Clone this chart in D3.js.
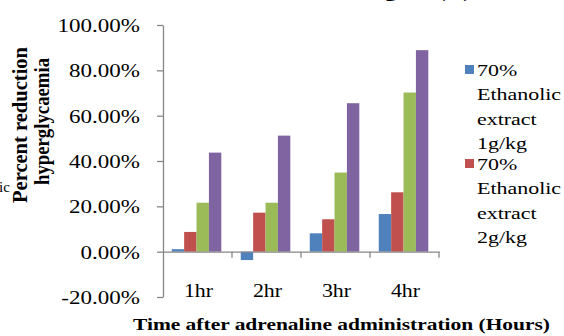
<!DOCTYPE html>
<html>
<head>
<meta charset="utf-8">
<script src="https://cdn.jsdelivr.net/npm/d3@7/dist/d3.min.js"></script>
<style>
  html, body { margin: 0; padding: 0; background: #fff; }
  svg { display: block; }
  text { font-family: "Liberation Serif", "Times New Roman", serif; fill: #000; }
</style>
</head>
<body>
<svg id="chart" width="564" height="336"></svg>
<script>
// ---- data ----
const categories = ["1hr", "2hr", "3hr", "4hr"];
const seriesNames = [
  "70% Ethanolic extract 1g/kg",
  "70% Ethanolic extract 2g/kg",
  "Series 3",
  "Series 4"
];
const series1 = [0.011, -0.037, 0.081, 0.166];
const series2 = [0.087, 0.172, 0.143, 0.262];
const series3 = [0.216, 0.216, 0.349, 0.702];
const series4 = [0.437, 0.512, 0.655, 0.889];
const yTicks = [-0.2, 0, 0.2, 0.4, 0.6, 0.8, 1.0];
const legendLines = [
  ["70%", "Ethanolic", "extract", "1g/kg"],
  ["70%", "Ethanolic", "extract", "2g/kg"]
];
const colors = ["#4F81BD", "#C0504D", "#9BBB59", "#8064A2"];

const allSeries = [series1, series2, series3, series4];

const svg = d3.select("#chart");
svg.append("rect").attr("width", 564).attr("height", 336).attr("fill", "#fff");

const SX = 1.28; // horizontal stretch of text in the reference

const y = d3.scaleLinear().domain([-0.2, 1.0]).range([297, 25]);
const x0 = d3.scaleBand().domain(categories).range([163, 439]).padding(0);
const bw = x0.bandwidth();
const x1 = d3.scaleBand().domain(d3.range(allSeries.length))
  .range([bw * 0.127, bw * 0.845]).padding(0);

const axisColor = "#868686";

// bars
const groups = svg.append("g").selectAll("g")
  .data(categories).join("g")
  .attr("transform", d => `translate(${x0(d)},0)`);
groups.selectAll("rect")
  .data((d, i) => allSeries.map((s, k) => ({ k, v: s[i] })))
  .join("rect")
  .attr("x", d => x1(d.k))
  .attr("width", x1.bandwidth())
  .attr("y", d => y(Math.max(0, d.v)))
  .attr("height", d => Math.abs(y(d.v) - y(0)))
  .attr("fill", d => colors[d.k]);

// y axis
const pct = d3.format(".2%");
const yAxis = d3.axisLeft(y).tickValues(yTicks).tickSize(6).tickSizeOuter(0)
  .tickFormat(d => pct(d).replace("\u2212", "-"));
const gy = svg.append("g").attr("transform", "translate(163,0)").call(yAxis);
gy.select(".domain").attr("stroke", axisColor).attr("stroke-width", 1.3);
gy.selectAll(".tick line").attr("stroke", axisColor).attr("stroke-width", 1.3);
gy.selectAll(".tick text")
  .attr("font-family", "Liberation Serif, serif")
  .attr("font-size", 18)
  .attr("fill", "#000")
  .attr("x", 0).attr("dy", 0)
  .attr("transform", `translate(-23,6.5) scale(${SX},1)`);

// x axis at zero line
const xAxis = d3.axisBottom(x0).tickSize(0).tickSizeOuter(0).tickFormat("");
const gx = svg.append("g").attr("transform", `translate(0,${y(0)})`).call(xAxis);
gx.select(".domain").attr("stroke", axisColor).attr("stroke-width", 1.3);
gx.selectAll(".tick").remove();
// category boundary tick marks
const bounds = categories.map(c => x0(c) + bw);
gx.selectAll("line.bt").data(bounds).join("line").attr("class", "bt")
  .attr("x1", d => d).attr("x2", d => d).attr("y1", 0).attr("y2", 6)
  .attr("stroke", axisColor).attr("stroke-width", 1.3);

// category labels
svg.append("g").selectAll("text").data(categories).join("text")
  .attr("text-anchor", "middle")
  .attr("font-size", 18)
  .attr("transform", d => `translate(${x0(d) + bw / 2 + 1},297) scale(${SX * 0.95},1)`)
  .text(d => d);

// x title
svg.append("text")
  .attr("x", 133).attr("y", 330)
  .attr("font-size", 17).attr("font-weight", "bold")
  .attr("textLength", 417).attr("lengthAdjust", "spacingAndGlyphs")
  .text("Time after adrenaline administration (Hours)");

// y title (two lines)
svg.append("text")
  .attr("transform", "translate(27,125) rotate(-90) scale(1,1.2)")
  .attr("text-anchor", "middle")
  .attr("font-size", 17).attr("font-weight", "bold")
  .attr("textLength", 156).attr("lengthAdjust", "spacingAndGlyphs")
  .text("Percent reduction");
svg.append("text")
  .attr("transform", "translate(49,121.5) rotate(-90) scale(1,1.2)")
  .attr("text-anchor", "middle")
  .attr("font-size", 17).attr("font-weight", "bold")
  .attr("textLength", 127).attr("lengthAdjust", "spacingAndGlyphs")
  .text("hyperglycaemia");

// clipped fragments at the edges (as in the reference)
svg.append("text").attr("x", -1).attr("y", 192).attr("font-size", 15).text("ic");
svg.append("text")
  .attr("transform", `translate(363,-3) scale(${SX},1)`)
  .attr("font-size", 19).attr("font-weight", "bold")
  .text("Figure (A)");

// legend
const legendTop = [75.5, 169.5];
const lg = svg.append("g");
legendLines.forEach((lines, i) => {
  lg.append("rect")
    .attr("x", 465).attr("y", legendTop[i] - 10.5)
    .attr("width", 9).attr("height", 9)
    .attr("fill", colors[i]);
  lines.forEach((t, j) => {
    lg.append("text")
      .attr("transform", `translate(477,${legendTop[i] + j * 24.5}) scale(1.33,1)`)
      .attr("font-size", 16.5)
      .text(t);
  });
});
</script>
</body>
</html>
